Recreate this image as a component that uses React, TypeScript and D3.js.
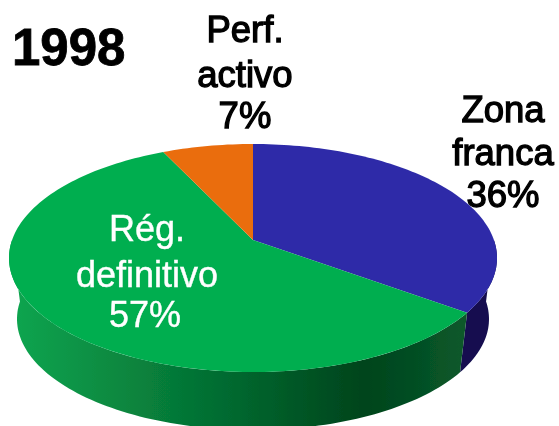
import React, { useEffect, useRef } from 'react';
import * as d3 from 'd3';

const labels = ['Zona franca', 'Rég. definitivo', 'Perf. activo'];
const percents = [36, 57, 7];
// wedge sizes as measured on the picture, they differ a little from the printed percents
const wedges = [35.1, 57.9, 7];
const topColors = ['#2e2ca8', '#00ae50', '#ea6d10'];
const sideColors = ['#14104f', 'url(#greenSide)', '#a04a08'];

const width = 559;
const height = 426;

// perspective shift of the pie centre, in units of the top face radius
const shift = 0.158;

const xTop = d3.scaleLinear().domain([-1, 1]).range([9, 497]);
const yTop = d3.scaleLinear().domain([-1, 1]).range([144, 372]);
const xBottom = d3.scaleLinear().domain([-1, 1]).range([17, 489]);
const yBottom = d3.scaleLinear().domain([-1, 1]).range([208, 430]);

function project(angle: number) {
    const u = Math.sin(angle);
    const v = -Math.cos(angle);
    const k = 1 - shift * v;
    return [(u * Math.sqrt(1 - shift * shift)) / k, (v - shift) / k];
}

function samples(a0: number, a1: number) {
    const n = Math.max(2, Math.ceil((a1 - a0) * 40));
    return d3.range(n + 1).map((i) => a0 + ((a1 - a0) * i) / n);
}

export default function App() {
    const ref = useRef<SVGSVGElement>(null);

    useEffect(() => {
        const svg = d3.select(ref.current);
        svg.selectAll('*').remove();

        const defs = svg.append('defs');
        const blur = defs.append('filter').attr('id', 'soft');
        blur.append('feGaussianBlur').attr('stdDeviation', 0.55);

        const grad = defs
            .append('linearGradient')
            .attr('id', 'greenSide')
            .attr('gradientUnits', 'userSpaceOnUse')
            .attr('x1', 10)
            .attr('x2', 470)
            .attr('y1', 0)
            .attr('y2', 0);
        grad.append('stop').attr('offset', '0%').attr('stop-color', '#0ea650');
        grad.append('stop').attr('offset', '35%').attr('stop-color', '#067a38');
        grad.append('stop').attr('offset', '77%').attr('stop-color', '#00441c');
        grad.append('stop').attr('offset', '100%').attr('stop-color', '#0a5a2c');

        const root = svg.append('g').attr('filter', 'url(#soft)');

        const arcs = d3.pie<number>().sort(null).value((d) => d)(wedges);
        const line = d3.line();
        const apex: [number, number] = [xTop(0), yTop(-shift)];

        // side wall, only the part of each slice that faces the viewer
        arcs.forEach((d, i) => {
            const a0 = Math.max(d.startAngle, Math.PI / 2);
            const a1 = Math.min(d.endAngle, (Math.PI * 3) / 2);
            if (a1 <= a0) return;
            const angles = samples(a0, a1);
            const upper = angles.map((a) => {
                const [u, v] = project(a);
                return [xTop(u), yTop(v)] as [number, number];
            });
            const lower = angles
                .map((a) => {
                    const [u, v] = project(a);
                    return [xBottom(u), yBottom(v)] as [number, number];
                })
                .reverse();
            root.append('path')
                .attr('d', line([...upper, ...lower]) + 'Z')
                .attr('fill', sideColors[i]);
        });

        // top face
        arcs.forEach((d, i) => {
            const rim = samples(d.startAngle, d.endAngle).map((a) => {
                const [u, v] = project(a);
                return [xTop(u), yTop(v)] as [number, number];
            });
            root.append('path')
                .attr('d', line([apex, ...rim]) + 'Z')
                .attr('fill', topColors[i]);
        });

        const text = (str: string, x: number, y: number, size: number, color: string, stroke: number, anchor = 'middle', weight = 'normal') => {
            root.append('text')
                .attr('x', x)
                .attr('y', y)
                .attr('text-anchor', anchor)
                .attr('font-family', '"Liberation Sans", Arial, sans-serif')
                .attr('font-size', size)
                .attr('font-weight', weight)
                .attr('fill', color)
                .attr('stroke', color)
                .attr('stroke-width', stroke)
                .text(str);
        };

        text('1998', 12, 65, 51, '#000', 0.8, 'start', 'bold');

        const [zona, franca] = labels[0].split(' ');
        const [reg, definitivo] = labels[1].split(' ');
        const [perf, activo] = labels[2].split(' ');

        text(perf, 245, 42, 36.5, '#000', 1.3);
        text(activo, 245, 87, 36.5, '#000', 1.3);
        text(`${percents[2]}%`, 245, 128, 36.5, '#000', 1.3);

        text(zona, 503, 122, 36.5, '#000', 1.3);
        text(franca, 503, 165, 36.5, '#000', 1.3);
        text(`${percents[0]}%`, 503, 207, 36.5, '#000', 1.3);

        text(reg, 147, 241, 36, '#fff', 0.4);
        text(definitivo, 147, 287, 36, '#fff', 0.4);
        text(`${percents[1]}%`, 145, 327, 36, '#fff', 0.4);
    }, []);

    return <svg ref={ref} width={width} height={height} style={{ position: 'absolute', left: 0, top: 0, background: '#fff' }} />;
}
